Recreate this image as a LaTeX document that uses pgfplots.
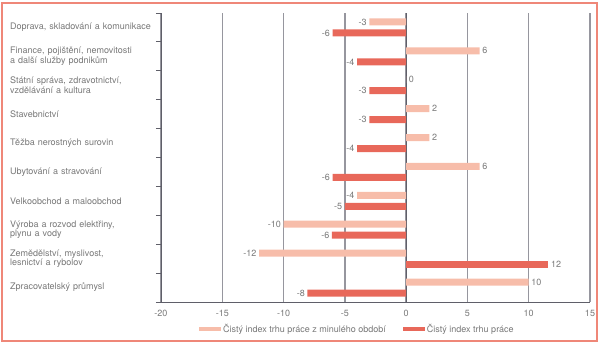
\documentclass[border=0pt]{standalone}
\usepackage{pgfplots}
\pgfplotsset{compat=1.18}
\usepackage{fontspec}
\setmainfont{TeX Gyre Heros}
\definecolor{lightbar}{RGB}{247,189,170}
\definecolor{darkbar}{RGB}{232,104,90}
\definecolor{framec}{RGB}{239,135,120}
\definecolor{txt}{RGB}{120,120,120}
\definecolor{gridc}{RGB}{150,150,158}
\definecolor{axisc}{RGB}{95,95,105}
\begin{document}
\begin{tikzpicture}[x=1pt,y=1pt]
\useasboundingbox (0,0) rectangle (600,345);
\begin{axis}[
  at={(161pt,43pt)}, anchor=south west,
  scale only axis, width=429pt, height=289pt,
  xmin=-20, xmax=15, ymin=-0.5, ymax=9.5,
  xbar, bar width=7pt,
  axis lines*=left,
  axis line style={axisc, line width=0.8pt},
  tick align=outside,
  major tick length=5pt,
  tick style={axisc, line width=0.8pt},
  xtick={-20,-15,...,15},
  xticklabels={-20,-15,-10,-5,0,5,10,15},
  xticklabel style={font=\fontsize{9}{10}\selectfont, text=txt},
  xtick style={draw=none},
  xmajorgrids, grid style={gridc, line width=1.3pt},
  extra x ticks={0}, extra x tick labels={},
  extra x tick style={grid style={axisc, line width=0.8pt}},
  ytick={-0.5,0.5,...,9.5},
  yticklabels={},
  extra y ticks={0,...,9},
  extra y tick labels={Zpracovatelský průmysl,
    {Zemědělství, myslivost,\\lesnictví a rybolov},
    {Výroba a rozvod elektřiny,\\plynu a vody},
    Velkoobchod a maloobchod,
    Ubytování a stravování,
    Těžba nerostných surovin,
    Stavebnictví,
    {Státní správa, zdravotnictví,\\vzdělávání a kultura},
    {Finance, pojištění, nemovitosti\\a další služby podnikům},
    {Doprava, skladování a komunikace}},
  extra y tick style={major tick length=0pt,
    yticklabel style={anchor=west, xshift=-151pt, text width=148pt, align=left,
      inner sep=0pt, font=\fontsize{9}{9.6}\selectfont, text=txt}},
  nodes near coords,
  point meta=explicit symbolic,
  every node near coord/.append style={font=\fontsize{9}{10}\selectfont, text=txt, inner sep=2.5pt},
  legend style={at={(0.458,-0.093)}, anchor=center, draw=none, fill=none,
    legend columns=2, font=\fontsize{9}{10}\selectfont, text=txt,
    /tikz/every even column/.append style={column sep=15pt}},
  legend image code/.code={\fill[#1] (0pt,-2pt) rectangle (22pt,2pt);},
]
% light series (previous period)
\addplot[fill=lightbar, draw=none, bar shift=5.5pt,
  every node near coord/.append style={anchor=west}] coordinates {
  (10,0)[10] (6,4)[6] (1.9,5)[2] (1.9,6)[2] (0,7)[0] (6,8)[6]};
\addplot[forget plot, fill=lightbar, draw=none, bar shift=5.5pt,
  every node near coord/.append style={anchor=east}] coordinates {
  (-12,1)[-12] (-10,2)[-10] (-4,3)[-4] (-3,9)[-3]};
% dark series (current)
\addplot[fill=darkbar, draw=none, bar shift=-5.5pt,
  every node near coord/.append style={anchor=west}] coordinates {
  (11.6,1)[12]};
\addplot[forget plot, fill=darkbar, draw=none, bar shift=-5.5pt,
  every node near coord/.append style={anchor=east}] coordinates {
  (-8.05,0)[-8] (-6.05,2)[-6] (-5,3)[-5] (-6,4)[-6]
  (-4,5)[-4] (-3,6)[-3] (-3,7)[-3] (-4,8)[-4] (-6,9)[-6]};
\legend{Čistý index trhu práce z minulého období, Čistý index trhu práce}
\end{axis}
\draw[framec, line width=2pt] (2,3.5) rectangle (596.5,342);
\end{tikzpicture}
\end{document}
